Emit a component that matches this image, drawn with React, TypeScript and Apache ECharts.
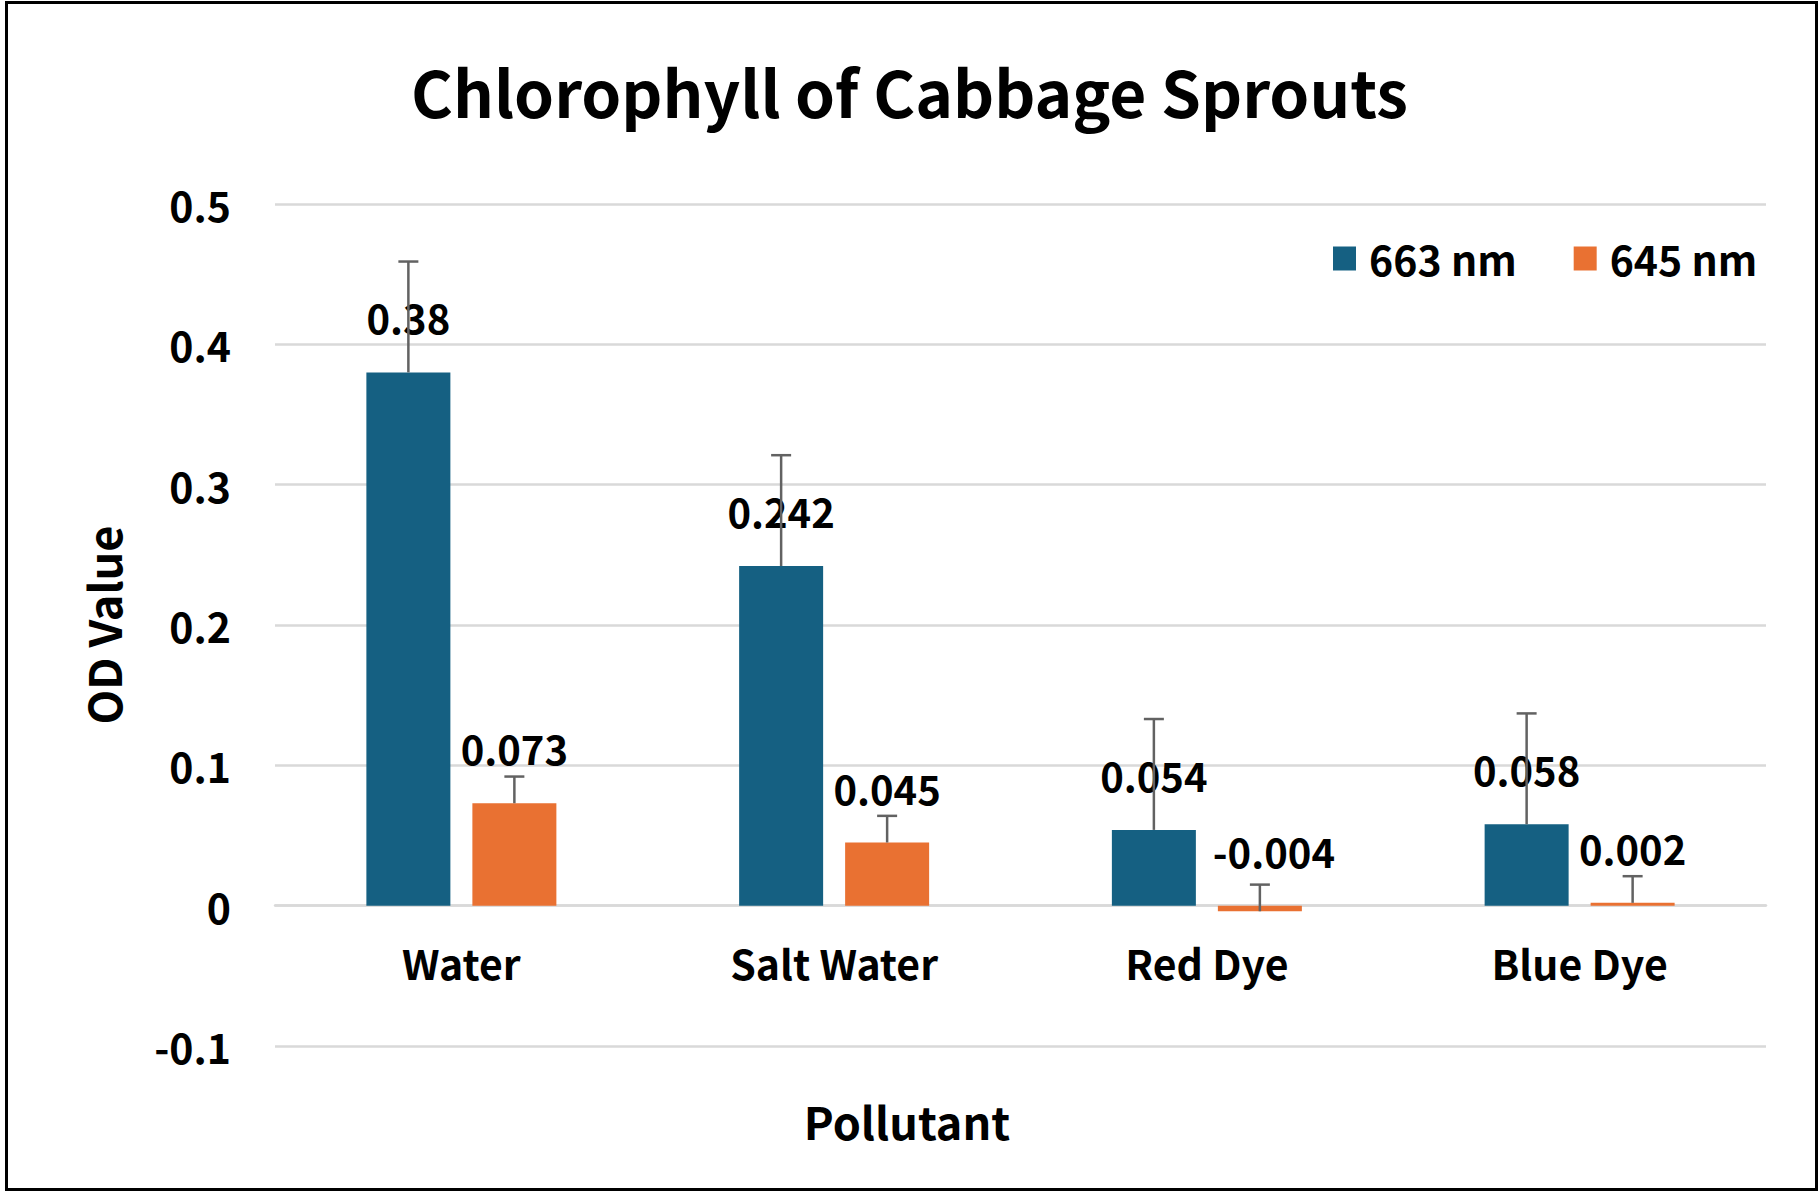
import React, { useEffect, useRef } from "react";
import * as echarts from "echarts";

const categories = ["Water", "Salt Water", "Red Dye", "Blue Dye"];
const seriesNames = ["663 nm", "645 nm"];
const values663 = [0.38, 0.242, 0.054, 0.058];
const values645 = [0.073, 0.045, -0.004, 0.002];
const err663 = [0.079, 0.079, 0.079, 0.079];
const err645 = [0.019, 0.019, 0.019, 0.019];
const yTicks = { min: -0.1, max: 0.5, interval: 0.1 };

const FONT = "'Noto Sans CJK KR', 'Noto Sans', sans-serif";
const BLUE = "#156082";
const ORANGE = "#E97132";
const BAR_W = 84;
const BAR_GAP = 22;
const W = 1819;
const H = 1191;
const GRID = { left: 275, right: 53, top: 204, bottom: 145 };

function errorSeries(vals: number[], errs: number[], sign: number) {
  return {
    type: "custom",
    z: 5,
    silent: true,
    data: vals.map((v, i) => [i, v, errs[i]]),
    renderItem: (params: any, api: any) => {
      const idx = api.value(0);
      const v = api.value(1);
      const e = api.value(2);
      const base = api.coord([idx, v]);
      const top = api.coord([idx, v + e]);
      const x = base[0] + sign * (BAR_W + BAR_GAP) / 2;
      const style = { stroke: "#626262", lineWidth: 2.5 };
      return {
        type: "group",
        children: [
          { type: "line", shape: { x1: x, y1: base[1], x2: x, y2: top[1] }, style },
          { type: "line", shape: { x1: x - 10, y1: top[1], x2: x + 10, y2: top[1] }, style },
        ],
      };
    },
  };
}

export default function App() {
  const ref = useRef<HTMLDivElement>(null);
  useEffect(() => {
    document.body.style.margin = "0";
    document.documentElement.style.overflow = "hidden";
    const chart = echarts.init(ref.current!, null, { renderer: "svg" });
    const labelStyle = {
      show: true,
      position: "top",
      distance: 35,
      color: "#000",
      fontSize: 40,
      fontWeight: "bold",
      fontFamily: FONT,
    };
    // distance (px) from the bottom of the plot to the zero line
    const plotH = H - GRID.top - GRID.bottom;
    const zeroOffset = (plotH * (0 - yTicks.min)) / (yTicks.max - yTicks.min);
    const data645 = values645.map((v) =>
      v < 0 ? { value: v, label: { offset: [14, 0] } } : v
    );
    chart.setOption({
      animation: false,
      backgroundColor: "#fff",
      textStyle: { fontFamily: FONT },
      title: {
        text: "Chlorophyll of Cabbage Sprouts",
        left: "center",
        top: 58,
        padding: 0,
        textStyle: { fontSize: 64, fontWeight: "bold", color: "#000", fontFamily: FONT },
      },
      legend: {
        data: seriesNames,
        left: 1333,
        top: 238,
        padding: 0,
        icon: "rect",
        itemWidth: 23,
        itemHeight: 24,
        itemGap: 57,
        textStyle: { fontSize: 41, fontWeight: "bold", color: "#000", fontFamily: FONT, padding: [0, 0, 0, 8] },
      },
      grid: { ...GRID, outerBoundsMode: "none", containLabel: false },
      xAxis: {
        type: "category",
        data: categories,
        offset: -zeroOffset,
        name: "Pollutant",
        nameLocation: "middle",
        nameGap: 192,
        nameTextStyle: { fontSize: 45, fontWeight: "bold", color: "#000", fontFamily: FONT, padding: [0, 227, 0, 0] },
        axisLine: { show: true, onZero: false, lineStyle: { color: "#d9d9d9", width: 2.5 } },
        axisTick: { show: false },
        axisLabel: { margin: 36, fontSize: 41, fontWeight: "bold", color: "#000", fontFamily: FONT },
      },
      yAxis: {
        type: "value",
        min: yTicks.min,
        max: yTicks.max,
        interval: yTicks.interval,
        name: "OD Value",
        nameLocation: "middle",
        nameGap: 150,
        nameTextStyle: { fontSize: 45, fontWeight: "bold", color: "#000", fontFamily: FONT },
        axisLine: { show: false },
        axisTick: { show: false },
        axisLabel: { margin: 44, fontSize: 41, fontWeight: "bold", color: "#000", fontFamily: FONT },
        splitLine: { lineStyle: { color: "#d9d9d9", width: 2.5 } },
      },
      series: [
        {
          name: seriesNames[0],
          type: "bar",
          data: values663,
          barWidth: BAR_W,
          barGap: (BAR_GAP / BAR_W) * 100 + "%",
          itemStyle: { color: BLUE },
          label: labelStyle,
        },
        {
          name: seriesNames[1],
          type: "bar",
          data: data645,
          barWidth: BAR_W,
          barGap: (BAR_GAP / BAR_W) * 100 + "%",
          itemStyle: { color: ORANGE },
          label: labelStyle,
        },
        errorSeries(values663, err663, -1),
        errorSeries(values645, err645, 1),
      ],
      graphic: [
        {
          type: "rect",
          silent: true,
          z: 100,
          shape: { x: 6.5, y: 2.5, width: 1810, height: 1187 },
          style: { fill: "none", stroke: "#000", lineWidth: 3 },
        },
      ],
    });
    return () => chart.dispose();
  }, []);
  return <div ref={ref} style={{ width: W, height: H }} />;
}
